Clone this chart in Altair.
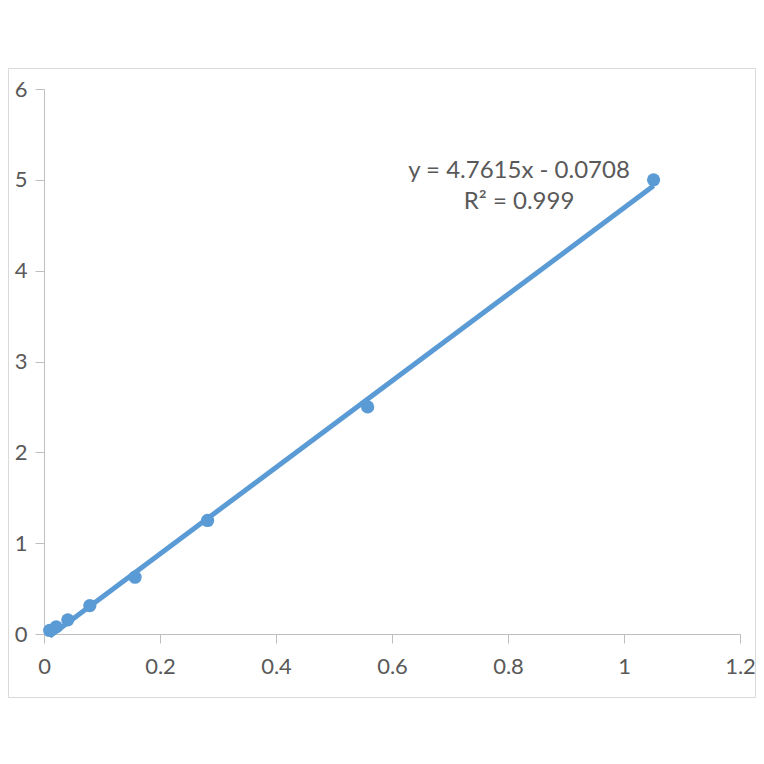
import altair as alt
import pandas as pd

# data
conc = [0.0098, 0.021, 0.041, 0.079, 0.157, 0.282, 0.558, 1.051]
signal = [0.039, 0.078, 0.156, 0.3125, 0.625, 1.25, 2.5, 5.0]
slope = [4.7615]
intercept = [-0.0708]
eq_lines = ["y = 4.7615x - 0.0708", "R² = 0.999"]
x_ticks = [0, 0.2, 0.4, 0.6, 0.8, 1, 1.2]
y_ticks = [0, 1, 2, 3, 4, 5, 6]

BLUE = "#5b9bd5"
GREY = "#bfbfbf"
TXT = "#595959"
FONT = "Lato"

pts = pd.DataFrame({"x": conc, "y": signal})
lx = [min(conc), max(conc)]
line = pd.DataFrame({"x": lx, "y": [slope[0] * v + intercept[0] for v in lx]})
lab = pd.DataFrame({"x": [0.819, 0.819], "y": [5.095, 4.76], "t": eq_lines})
frame = pd.DataFrame({"a": [0]})

xs = alt.Scale(domain=[0, 1.2], nice=False, zero=False)
ys = alt.Scale(domain=[0, 6], nice=False, zero=False)

xax = alt.Axis(values=x_ticks, grid=False, domainColor=GREY, tickColor=GREY,
               tickSize=9, labelFontSize=22, labelColor=TXT, labelFont=FONT,
               labelPadding=13, title=None, format="~g", labelFlush=False)
yax = alt.Axis(values=y_ticks, grid=False, domainColor=GREY, tickColor=GREY,
               tickSize=9, labelFontSize=22, labelColor=TXT, labelFont=FONT,
               labelPadding=8, title=None, format="~g")

border = alt.Chart(frame).mark_rect(fill=None, stroke="#d9d9d9", strokeWidth=1).encode(
    x=alt.value(-35.5), x2=alt.value(711.5), y=alt.value(-20.5), y2=alt.value(608.5)
)

trend = alt.Chart(line).mark_line(color=BLUE, strokeWidth=5).encode(
    x=alt.X("x:Q", scale=xs, axis=xax),
    y=alt.Y("y:Q", scale=ys, axis=yax),
)

dots = alt.Chart(pts).mark_circle(color=BLUE, opacity=1, size=175).encode(
    x=alt.X("x:Q", scale=xs),
    y=alt.Y("y:Q", scale=ys),
)

text = alt.Chart(lab).mark_text(fontSize=24, color=TXT, font=FONT, align="center",
                                baseline="middle").encode(
    x=alt.X("x:Q", scale=xs),
    y=alt.Y("y:Q", scale=ys),
    text="t:N",
)

chart = alt.layer(border, trend, dots, text).properties(
    width=696, height=545,
    autosize=alt.AutoSizeParams(type="none"),
    padding={"left": 36, "top": 81, "right": 16, "bottom": 70},
    background="white",
).configure_view(stroke=None)

chart.save("out.html", embed_options={"renderer": "svg", "actions": False})
